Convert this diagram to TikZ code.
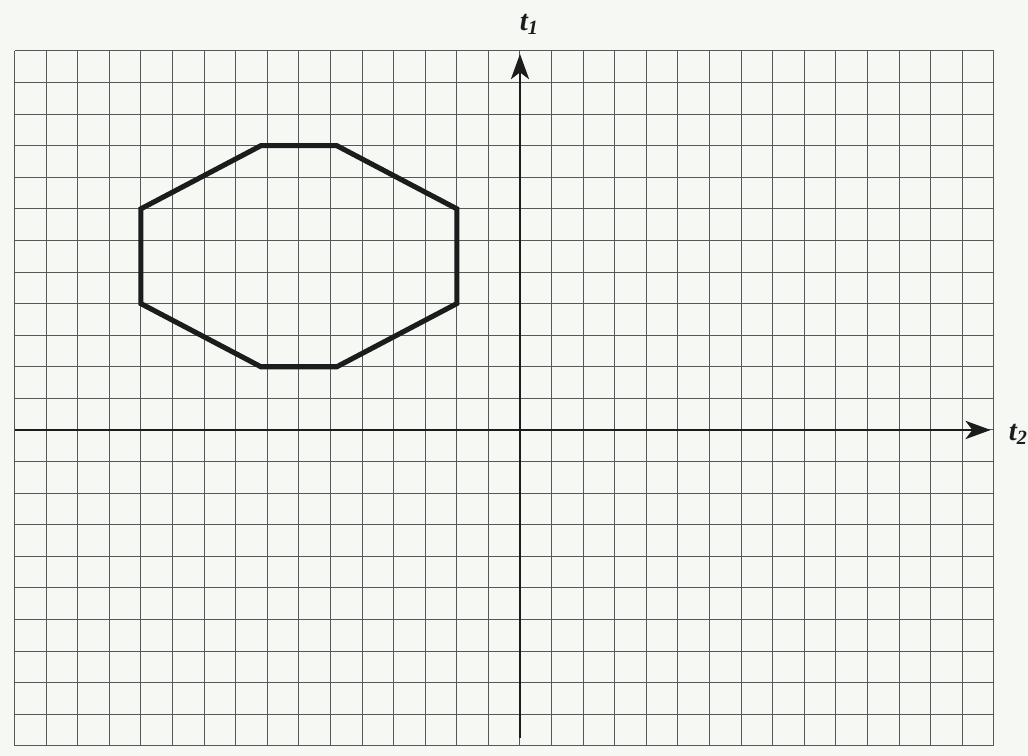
\documentclass[tikz,border=0pt]{standalone}
\usepackage{fontspec}
\setmainfont{Liberation Serif}
\usetikzlibrary{arrows.meta}
\definecolor{paperbg}{HTML}{F6F8F4}
\definecolor{gridink}{HTML}{55585A}
\definecolor{axisink}{HTML}{1C1C1C}
\tikzset{
  gridline/.style={draw=gridink, line width=.45pt},
  axisline/.style={-{Stealth[length=4mm, width=2.9mm, inset=1.1mm]}, draw=axisink, line width=.9pt},
  octline/.style={draw=axisink, line width=2.3pt, line join=miter},
  axislabel/.style={font=\fontsize{13}{15}\selectfont\bfseries\itshape, text=axisink, inner sep=0pt}
}

\begin{document}
\begin{tikzpicture}[x=.5cm,y=.5cm]
  % squared paper, one unit per cell
  \useasboundingbox[fill=paperbg] (-16.46,-10.32) rectangle (16.08,13.61);
  \draw[gridline, step=.5cm] (-16,-10) grid (15,12);

  \coordinate (t2from) at (-16,0);
  \coordinate (t2to) at (14.9,0);
  \coordinate (t1from) at (0,-9.75);
  \coordinate (t1to) at (0,11.9);
  \draw[axisline] (t2from) -- (t2to);
  \draw[axisline] (t1from) -- (t1to);
  \node[axislabel] (t1lbl) at (0.3,12.85) {t\textsubscript{1}};
  \node[axislabel] (t2lbl) at (15.78,-0.15) {t\textsubscript{2}};

  \draw[octline] (-8.2,9) -- (-5.8,9) -- (-2,7) -- (-2,4) -- (-5.8,2)
    -- (-8.2,2) -- (-12,4) -- (-12,7) -- cycle;
\end{tikzpicture}
\end{document}
